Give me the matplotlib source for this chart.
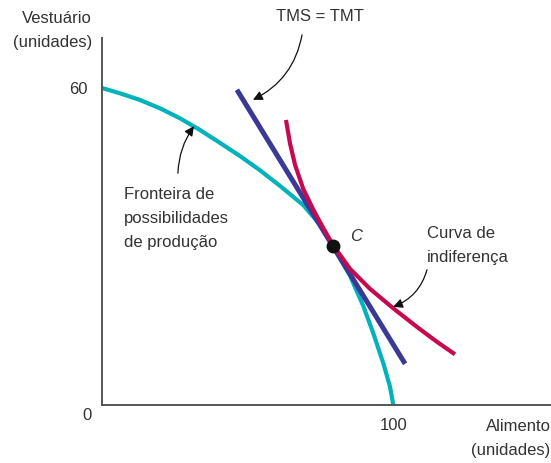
import matplotlib
matplotlib.use("Agg")
import matplotlib.pyplot as plt
from matplotlib import font_manager

# ---------------- data ----------------
ppf_x = [0, 6.16, 13.01, 19.86, 26.71, 33.56, 40.41, 47.26, 54.11, 60.96, 68.94,
         74.66, 79.11, 84.93, 89.49, 92.91, 96.34, 98.63, 99.76]
ppf_y = [60.04, 59.03, 57.77, 56.19, 54.30, 52.08, 49.65, 47.15, 44.45, 41.50, 37.85,
         34.15, 30.11, 24.50, 18.75, 13.58, 7.90, 3.47, 0]

tms_x = [46.2, 103.8]
tms_y = [59.7, 7.8]

ind_x = [63.01, 64.38, 66.10, 68.94, 72.36, 75.79, 79.11, 84.93, 91.78, 99.76, 107.77, 114.62, 120.89]
ind_y = [53.98, 49.56, 45.50, 40.90, 37.00, 33.50, 30.30, 25.80, 22.00, 18.31, 14.83, 12.00, 9.60]

point_c = (79.1, 30.2)

x_ticks = [100]
x_tick_labels = ["100"]
y_ticks = [60]
y_tick_labels = ["60"]

# ---------------- style ----------------
names = {f.name for f in font_manager.fontManager.ttflist}
fam = "Liberation Sans Narrow" if "Liberation Sans Narrow" in names else "Liberation Sans"
plt.rcParams['font.family'] = [fam, 'DejaVu Sans']
plt.rcParams['font.size'] = 12

TEAL = "#00B2BA"
BLUE = "#3A3A96"
RED = "#C8084F"
TXT = "#333333"
LS = 1.75

W, H = 551, 463
fig = plt.figure(figsize=(W / 100, H / 100), dpi=100)
ax = fig.add_axes([102 / W, (H - 405) / H, (W - 102) / W, (405 - 38) / H])
ax.set_xlim(0, (W - 102) / 2.92)
ax.set_ylim(0, (405 - 38) / 5.28)
for s in ["top", "right"]:
    ax.spines[s].set_visible(False)
for s in ["left", "bottom"]:
    ax.spines[s].set_color("#555555")
    ax.spines[s].set_linewidth(1.4)

ax.set_xticks(x_ticks)
ax.set_xticklabels(x_tick_labels, color=TXT, fontsize=12)
ax.set_yticks(y_ticks)
ax.set_yticklabels(y_tick_labels, color=TXT, fontsize=12)
ax.tick_params(axis="both", length=0)
ax.tick_params(axis="x", pad=9)
ax.tick_params(axis="y", pad=10)

ax.plot(ppf_x, ppf_y, color=TEAL, lw=3.0, solid_capstyle="butt", solid_joinstyle="round", clip_on=False)
ax.plot(tms_x, tms_y, color=BLUE, lw=3.6, solid_capstyle="butt", clip_on=False)
ax.plot(ind_x, ind_y, color=RED, lw=3.0, solid_capstyle="butt", solid_joinstyle="round", clip_on=False)
ax.plot([point_c[0]], [point_c[1]], "o", color="#111111", ms=9, zorder=5)

ax.text(-5.1, -1.9, "0", ha="center", va="center", color=TXT, fontsize=12)
ax.text(-3.4, 71.0, "Vestuário\n(unidades)", ha="right", va="center", color=TXT,
        fontsize=12, linespacing=LS)
ax.text(153.6, -6.3, "Alimento\n(unidades)", ha="right", va="center", color=TXT,
        fontsize=12, linespacing=LS)
ax.text(74.7, 73.5, "TMS = TMT", ha="center", va="center", color=TXT, fontsize=12)
ax.text(84.9, 32.0, "C", ha="left", va="center", color=TXT, fontsize=12, style="italic")
ax.text(111.3, 30.3, "Curva de\nindiferença", ha="left", va="center", color=TXT,
        fontsize=12, linespacing=LS)
ax.text(7.5, 35.4, "Fronteira de\npossibilidades\nde produção", ha="left", va="center",
        color=TXT, fontsize=12, linespacing=LS)

akw = dict(arrowstyle="-|>", color="#111111", lw=0.9, mutation_scale=14, shrinkA=0, shrinkB=0)
ax.annotate("", xy=(51.7, 57.8), xytext=(68.5, 70.1),
            arrowprops=dict(connectionstyle="arc3,rad=-0.25", **akw), annotation_clip=False)
ax.annotate("", xy=(31.5, 52.8), xytext=(26.0, 43.9),
            arrowprops=dict(connectionstyle="arc3,rad=-0.15", **akw))
ax.annotate("", xy=(99.7, 18.6), xytext=(111.3, 25.6),
            arrowprops=dict(connectionstyle="arc3,rad=-0.25", **akw))

fig.savefig("out.png", dpi=100)
